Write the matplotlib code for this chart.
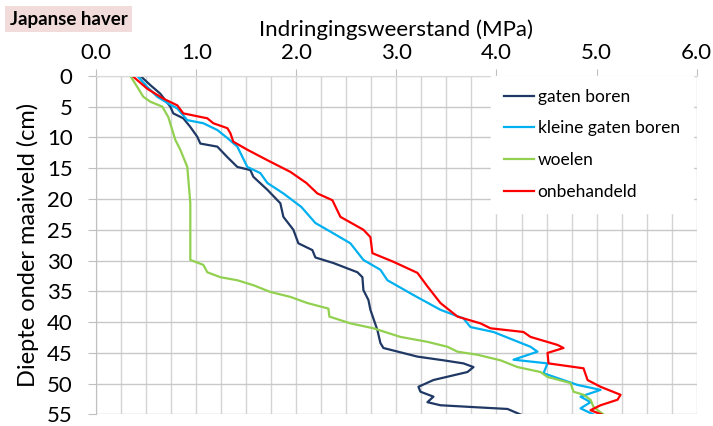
import matplotlib
matplotlib.use("Agg")
import matplotlib.pyplot as plt
from matplotlib.ticker import MultipleLocator

plt.rcParams['font.family'] = ['Lato', 'DejaVu Sans']

# diepte (cm) en indringingsweerstand (MPa)
diepte_gaten = [0, 1.5, 2.9, 5, 6.1, 6.9, 8.3, 9.9, 11, 11.5, 13.2, 14.8, 15.3, 16.4, 18.5, 20.7,
                22.9, 25, 27.2, 28.3, 29.5, 30.4, 31.9, 32.7, 34.8, 36.4, 38, 41.3, 43.4, 44.2,
                45.6, 46.2, 46.7, 47.3, 48.1, 49.4, 50.5, 51.3, 52.1, 53, 53.5, 53.8, 54.1, 55]
gaten_boren = [0.44, 0.54, 0.64, 0.74, 0.77, 0.87, 0.94, 1.01, 1.04, 1.21, 1.31, 1.41, 1.54, 1.57,
               1.71, 1.84, 1.87, 1.97, 2.02, 2.16, 2.19, 2.37, 2.61, 2.66, 2.67, 2.72, 2.74, 2.81,
               2.84, 2.87, 3.21, 3.47, 3.67, 3.77, 3.71, 3.37, 3.22, 3.24, 3.37, 3.31, 3.44, 3.77,
               4.11, 4.24]

diepte_klein = [0, 1.8, 3.4, 4.5, 5.3, 7.2, 7.7, 8.8, 10.1, 11.5, 14.8, 15.8, 17.4, 19.1, 21.3,
                23.9, 25.3, 27.2, 29.9, 31.5, 33.2, 35.6, 38, 39.4, 40.8, 41.6, 42.9, 44, 44.8,
                46.1, 46.4, 46.7, 48.3, 50.2, 51, 52.1, 53, 54, 55]
kleine_gaten = [0.41, 0.51, 0.61, 0.72, 0.81, 0.91, 1.07, 1.21, 1.31, 1.41, 1.51, 1.64, 1.71, 1.87,
                2.05, 2.19, 2.34, 2.54, 2.67, 2.84, 2.91, 3.17, 3.44, 3.67, 3.74, 3.97, 4.17, 4.34,
                4.41, 4.17, 4.34, 4.51, 4.47, 4.81, 5.04, 4.84, 4.94, 4.84, 4.97]

diepte_woelen = [0, 1.8, 3.4, 4.2, 5, 6.7, 10.4, 12, 14.8, 20.7, 29.9, 30.7, 31.9, 32.7, 33.2, 34,
                 35.1, 35.9, 36.9, 37.8, 39.1, 40.2, 41, 42.4, 43.2, 44, 44.8, 45.3, 46.2, 47.3,
                 48.1, 48.9, 49.9, 51.3, 51.8, 52.6, 53.8, 55]
woelen = [0.34, 0.41, 0.47, 0.54, 0.66, 0.72, 0.79, 0.84, 0.91, 0.94, 0.94, 1.07, 1.11, 1.24, 1.41,
          1.57, 1.74, 1.94, 2.11, 2.32, 2.33, 2.54, 2.77, 3.04, 3.31, 3.51, 3.61, 3.81, 4.04, 4.21,
          4.44, 4.51, 4.74, 4.77, 4.87, 4.94, 4.97, 5.07]

diepte_onb = [0, 2.1, 3.7, 4.8, 6.1, 6.9, 7.7, 8.5, 9.3, 10.7, 12, 13.7, 15.6, 17.4, 19.1, 20.2,
              22.9, 25, 26.2, 28.8, 30.2, 32, 34.2, 36.9, 39.1, 40.2, 41, 41.6, 42.4, 43.7, 44.2,
              45, 46.7, 47.5, 49.4, 50.5, 51.8, 52.6, 53.5, 54.3, 55]
onbehandeld = [0.36, 0.51, 0.67, 0.81, 0.87, 1.11, 1.17, 1.31, 1.34, 1.37, 1.51, 1.71, 1.94, 2.1,
               2.21, 2.36, 2.44, 2.67, 2.74, 2.76, 2.97, 3.21, 3.31, 3.44, 3.61, 3.84, 3.94, 4.27,
               4.34, 4.61, 4.67, 4.51, 4.52, 4.87, 4.91, 5.04, 5.24, 5.21, 5.04, 4.94, 5.05]

fig = plt.figure(figsize=(7.13, 4.26), dpi=100)
ax = fig.add_axes([0.135, 0.027, 0.842, 0.795])

ax.plot(gaten_boren, diepte_gaten, color='#1F3864', lw=1.6, label='gaten boren')
ax.plot(kleine_gaten, diepte_klein, color='#00B0F0', lw=1.6, label='kleine gaten boren')
ax.plot(woelen, diepte_woelen, color='#92D050', lw=1.6, label='woelen')
ax.plot(onbehandeld, diepte_onb, color='#FF0000', lw=1.6, label='onbehandeld')

ax.set_xlim(0, 6)
ax.set_ylim(55, 0)
ax.xaxis.tick_top()
ax.xaxis.set_label_position('top')
ax.xaxis.set_major_locator(MultipleLocator(1))
ax.xaxis.set_minor_locator(MultipleLocator(0.25))
ax.yaxis.set_major_locator(MultipleLocator(5))
ax.xaxis.set_major_formatter(plt.FormatStrFormatter('%.1f'))
ax.grid(True, which='both', axis='x', color='#d4d4d4', lw=1)
ax.grid(True, which='major', axis='y', color='#c8c8c8', lw=1)
ax.set_axisbelow(True)
ax.tick_params(axis='x', which='major', labelsize=16, length=5, color='#bfbfbf', pad=4)
ax.tick_params(axis='x', which='minor', length=0)
ax.tick_params(axis='y', labelsize=16, length=6, color='#bfbfbf', pad=11)
for s in ['right', 'bottom']:
    ax.spines[s].set_visible(False)
ax.spines['top'].set_color('#d9d9d9')
ax.spines['left'].set_color('#bfbfbf')

ax.set_xlabel('Indringingsweerstand (MPa)', fontsize=16, labelpad=5)
ax.set_ylabel('Diepte onder maaiveld (cm)', fontsize=17, labelpad=6)

leg = ax.legend(loc='upper left', bbox_to_anchor=(0.657, 1.0), fontsize=12.5, frameon=True,
                fancybox=False, handlelength=1.75, handletextpad=0.2, labelspacing=0.9,
                borderpad=0.75, borderaxespad=0)
leg.get_frame().set_facecolor('white')
leg.get_frame().set_edgecolor('white')
leg.get_frame().set_alpha(1)

fig.text(0.014, 0.955, 'Japanse haver', fontsize=13.5, fontweight='bold', va='center',
         bbox=dict(boxstyle='square,pad=0.25', facecolor='#F2DCDB', edgecolor='none'))

fig.savefig('out.png', dpi=100)
